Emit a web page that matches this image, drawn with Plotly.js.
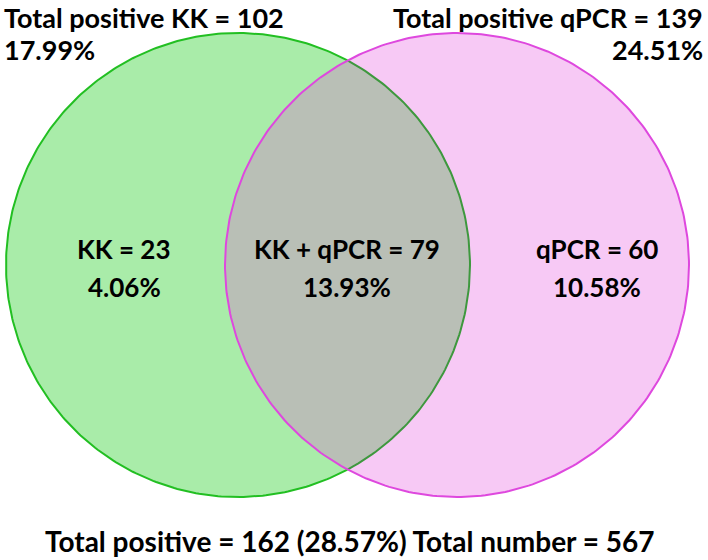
<!DOCTYPE html>
<html><head><meta charset="utf-8">
<script src="https://cdn.plot.ly/plotly-3.0.1.min.js"></script>
<style>html,body{margin:0;padding:0;background:#fff}</style></head>
<body><div id="chart" style="width:708px;height:560px"></div>
<script>
// ---- data ----
const setNames = ["KK", "qPCR"];
const setTotals = [102, 139];
const setTotalPct = ["17.99%", "24.51%"];
const regionNames = ["KK", "KK + qPCR", "qPCR"];
const regionCounts = [23, 79, 60];
const regionPct = ["4.06%", "13.93%", "10.58%"];
const totalPositive = 162;
const totalPositivePct = "28.57%";
const totalNumber = 567;

// ---- geometry (layout only) ----
const C1 = [238, 265], C2 = [457, 265], R = 232;
const d = C2[0] - C1[0];
const th = Math.acos((d / 2) / R);

function arc(c, a0, a1, n) {
  const xs = [], ys = [];
  for (let i = 0; i <= n; i++) {
    const t = a0 + (a1 - a0) * i / n;
    xs.push(c[0] + R * Math.cos(t));
    ys.push(c[1] + R * Math.sin(t));
  }
  return [xs, ys];
}
const full1 = arc(C1, 0, 2 * Math.PI, 360);
const full2 = arc(C2, 0, 2 * Math.PI, 360);
const lensA = arc(C1, -th, th, 120);
const lensB = arc(C2, Math.PI - th, Math.PI + th, 120);
const lens = [lensA[0].concat(lensB[0]), lensA[1].concat(lensB[1])];
const outer1 = arc(C1, th, 2 * Math.PI - th, 300);

const GREEN_FILL = "#a9eca9", GREEN_LINE = "#22bf22", GREEN_DARK = "#3e983e";
const PINK_FILL = "#f7c9f5", PINK_LINE = "#de48de", GRAY = "#b9bfb6";

const base = {type: "scatter", mode: "lines", hoverinfo: "skip", showlegend: false};
const traces = [
  Object.assign({}, base, {x: full1[0], y: full1[1], fill: "toself", fillcolor: GREEN_FILL, line: {width: 0, color: GREEN_FILL}, name: setNames[0]}),
  Object.assign({}, base, {x: full2[0], y: full2[1], fill: "toself", fillcolor: PINK_FILL, line: {width: 0, color: PINK_FILL}, name: setNames[1]}),
  Object.assign({}, base, {x: lens[0], y: lens[1], fill: "toself", fillcolor: GRAY, line: {width: 0, color: GRAY}}),
  Object.assign({}, base, {x: outer1[0], y: outer1[1], line: {width: 2, color: GREEN_LINE}}),
  Object.assign({}, base, {x: lensA[0], y: lensA[1], line: {width: 2, color: GREEN_DARK}}),
  Object.assign({}, base, {x: full2[0], y: full2[1], line: {width: 2, color: PINK_LINE}})
];

const FONT = {family: "Lato, 'Open Sans', sans-serif", size: 26, color: "#000"};
function ann(x, y, text, xanchor, size) {
  return {x: x, y: y, xref: "x", yref: "y", text: "<b>" + text + "</b>", showarrow: false,
          xanchor: xanchor || "center", yanchor: "middle",
          font: Object.assign({}, FONT, size ? {size: size} : {})};
}
const regionX = [124, 347, 597];
const annotations = [
  ann(2, 17, "Total positive " + setNames[0] + " = " + setTotals[0], "left", 27),
  ann(2, 49, setTotalPct[0], "left", 27),
  ann(705, 17, "Total positive " + setNames[1] + " = " + setTotals[1], "right", 27),
  ann(705, 49, setTotalPct[1], "right", 27),
  ann(350, 541, "Total positive = " + totalPositive + " (" + totalPositivePct + ") Total number = " + totalNumber, "center", 28)
];
for (let i = 0; i < regionNames.length; i++) {
  annotations.push(ann(regionX[i], 249, regionNames[i] + " = " + regionCounts[i]));
  annotations.push(ann(regionX[i], 287, regionPct[i]));
}

const layout = {
  width: 708, height: 560,
  margin: {l: 0, r: 0, t: 0, b: 0},
  paper_bgcolor: "#fff", plot_bgcolor: "#fff",
  xaxis: {range: [0, 708], visible: false, fixedrange: true},
  yaxis: {range: [560, 0], visible: false, fixedrange: true},
  annotations: annotations
};
Plotly.newPlot("chart", traces, layout, {staticPlot: true, displayModeBar: false});
</script></body></html>
